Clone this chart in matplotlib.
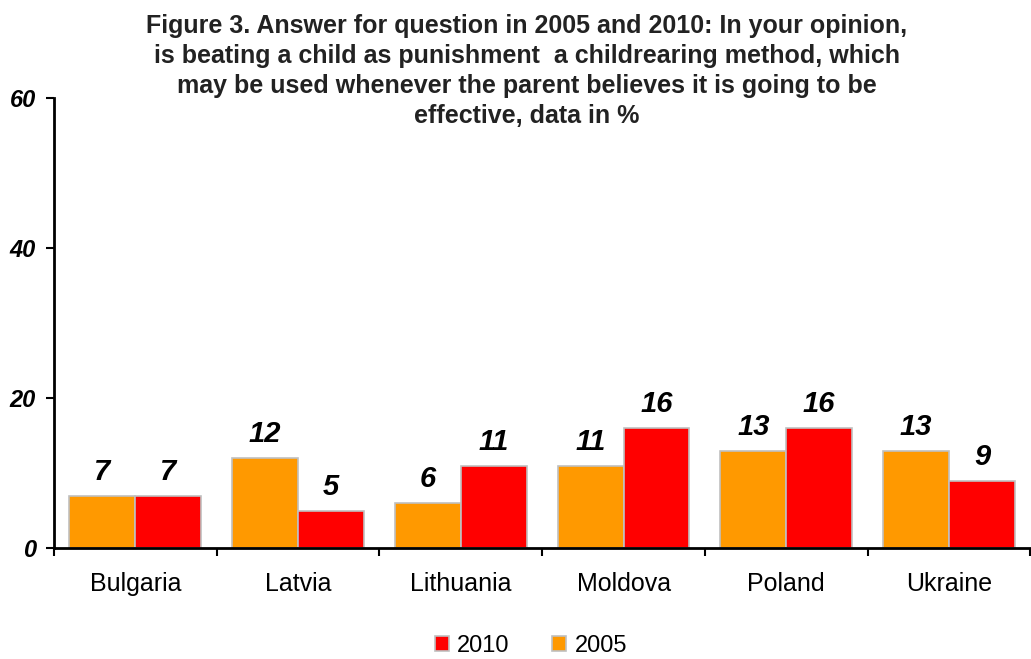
import numpy as np
import matplotlib
matplotlib.use('Agg')
import matplotlib.pyplot as plt

plt.rcParams['font.family'] = ['Liberation Sans', 'DejaVu Sans']

countries = ['Bulgaria', 'Latvia', 'Lithuania', 'Moldova', 'Poland', 'Ukraine']
vals_2005 = [7, 12, 6, 11, 13, 13]
vals_2010 = [7, 5, 11, 16, 16, 9]

title = ("Figure 3. Answer for question in 2005 and 2010: In your opinion,\n"
         "is beating a child as punishment  a childrearing method, which\n"
         "may be used whenever the parent believes it is going to be\n"
         "effective, data in %")

fig = plt.figure(figsize=(10.31, 6.59), dpi=100)
ax = fig.add_axes([0.0524, 0.1684, 0.947, 0.6829])

x = np.arange(len(countries))
w = 0.405
b05 = ax.bar(x - w / 2, vals_2005, w, color='#FF9900', edgecolor='#C0C0C0',
             linewidth=1.2, label='2005')
b10 = ax.bar(x + w / 2, vals_2010, w, color='#FF0000', edgecolor='#C0C0C0',
             linewidth=1.2, label='2010')

# value labels above bars
for bars, vals in [(b05, vals_2005), (b10, vals_2010)]:
    for r, v in zip(bars, vals):
        ax.annotate(str(v), (r.get_x() + r.get_width() / 2, v),
                    xytext=(0, 7), textcoords='offset points',
                    ha='center', va='bottom', fontsize=21,
                    fontweight='bold', fontstyle='italic')

ax.set_xlim(-0.5, len(countries) - 0.5)
ax.set_ylim(0, 60)
ax.set_yticks([0, 20, 40, 60])
ax.set_yticklabels(['0', '20', '40', '60'], fontsize=17,
                   fontweight='bold', fontstyle='italic')

# ticks on category boundaries, labels at centres
ax.set_xticks(np.arange(len(countries) + 1) - 0.5)
ax.set_xticklabels([])
ax.set_xticks(x, minor=True)
ax.set_xticklabels(countries, minor=True, fontsize=18)
ax.tick_params(axis='x', which='minor', length=0, pad=17)
ax.tick_params(axis='x', which='major', length=6, width=1.5, direction='out')
ax.tick_params(axis='y', length=6, width=1.5, direction='out', pad=7)

for s in ['top', 'right']:
    ax.spines[s].set_visible(False)
ax.spines['left'].set_linewidth(2)
ax.spines['bottom'].set_linewidth(2)

fig.text(0.511, 0.979, title, ha='center', va='top', fontsize=18,
         fontweight='bold', color='#222222', linespacing=1.32)

ax.legend(handles=[b10, b05], labels=['2010', '2005'],
          loc='center', bbox_to_anchor=(0.515, 0.02), bbox_transform=fig.transFigure,
          ncol=2, frameon=False, fontsize=17, handlelength=0.6,
          handleheight=0.6, handletextpad=0.35, columnspacing=1.8,
          borderpad=0.1)

fig.savefig('out.png', dpi=100)
